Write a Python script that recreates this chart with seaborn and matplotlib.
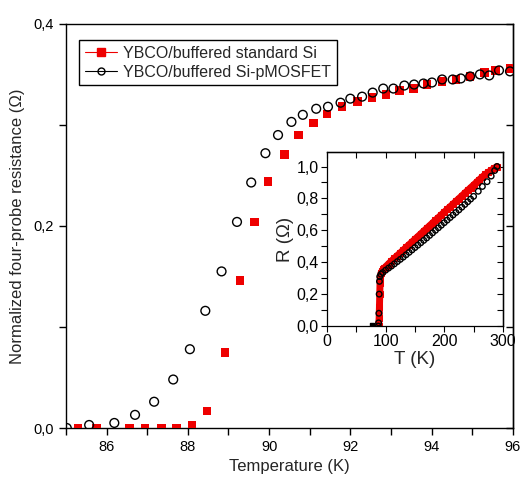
import matplotlib
matplotlib.use('Agg')
import matplotlib.pyplot as plt
import seaborn as sns
from matplotlib.lines import Line2D
from matplotlib.ticker import MultipleLocator, FuncFormatter, NullFormatter

# main panel: normalized resistance near the transition
std_T = [85.30, 85.75, 86.57, 86.94, 87.35, 87.72, 88.10, 88.47, 88.91, 89.28,
         89.64, 89.97, 90.38, 90.72, 91.09, 91.43, 91.80, 92.17, 92.53, 92.88,
         93.21, 93.55, 93.89, 94.26, 94.60, 94.95, 95.30, 95.58, 95.93]
std_R = [0.000, 0.000, 0.000, 0.000, 0.000, 0.000, 0.003, 0.017, 0.075, 0.146,
         0.204, 0.244, 0.271, 0.290, 0.302, 0.311, 0.318, 0.323, 0.327, 0.330,
         0.334, 0.336, 0.340, 0.343, 0.345, 0.348, 0.352, 0.354, 0.356]

mos_T = [85.02, 85.57, 86.19, 86.70, 87.17, 87.64, 88.05, 88.43, 88.83, 89.21,
         89.56, 89.91, 90.22, 90.55, 90.83, 91.16, 91.45, 91.76, 92.00, 92.29,
         92.55, 92.81, 93.06, 93.33, 93.57, 93.80, 94.01, 94.26, 94.52, 94.72,
         94.95, 95.19, 95.42, 95.66, 95.93]
mos_R = [0.000, 0.003, 0.005, 0.013, 0.026, 0.048, 0.078, 0.116, 0.155, 0.204,
         0.243, 0.272, 0.290, 0.303, 0.310, 0.316, 0.318, 0.322, 0.326, 0.328,
         0.332, 0.336, 0.336, 0.339, 0.340, 0.341, 0.342, 0.345, 0.345, 0.346,
         0.348, 0.350, 0.349, 0.354, 0.353]

# inset: full temperature range
in_std_T = [88, 89, 89.5, 90, 90.5, 91, 92, 94, 96, 98, 100, 105, 110, 115, 120,
            125, 130, 135, 140, 145, 150, 155, 160, 165, 170, 175, 180, 185, 190,
            195, 200, 205, 210, 215, 220, 225, 230, 235, 240, 245, 250, 255, 260,
            265, 270, 275, 280, 285, 290]
in_std_R = [0.00, 0.05, 0.12, 0.20, 0.27, 0.31, 0.33, 0.345, 0.355, 0.362, 0.372,
            0.39, 0.408, 0.425, 0.442, 0.459, 0.476, 0.493, 0.51, 0.527, 0.544,
            0.561, 0.578, 0.595, 0.612, 0.629, 0.646, 0.663, 0.68, 0.697, 0.714,
            0.731, 0.748, 0.765, 0.782, 0.799, 0.816, 0.833, 0.85, 0.867, 0.884,
            0.901, 0.918, 0.935, 0.95, 0.963, 0.976, 0.988, 1.00]

in_mos_T = [87.5, 88, 88.5, 89, 89.5, 90, 92, 95, 100, 105, 110, 115, 120, 125,
            130, 135, 140, 145, 150, 155, 160, 165, 170, 175, 180, 185, 190, 195,
            200, 205, 210, 215, 220, 225, 230, 235, 240, 245, 250, 258, 265, 273,
            280, 286, 290]
in_mos_R = [0.00, 0.02, 0.08, 0.20, 0.28, 0.31, 0.325, 0.335, 0.35, 0.363, 0.376,
            0.39, 0.404, 0.418, 0.432, 0.447, 0.462, 0.477, 0.492, 0.507, 0.522,
            0.537, 0.552, 0.568, 0.584, 0.6, 0.616, 0.632, 0.648, 0.664, 0.68,
            0.696, 0.712, 0.728, 0.745, 0.762, 0.779, 0.796, 0.813, 0.845, 0.875,
            0.905, 0.94, 0.975, 1.00]

low_T = [77]
low_R = [0.005]

sns.set_theme(style='ticks')
plt.rcParams['font.family'] = ['Liberation Sans', 'DejaVu Sans']
plt.rcParams['axes.linewidth'] = 1.0

comma = FuncFormatter(lambda v, p: ('%.1f' % v).replace('.', ','))

fig = plt.figure(figsize=(5.22, 4.94), dpi=100)
ax = fig.add_axes([0.1264, 0.1336, 0.856, 0.818])

sns.scatterplot(x=std_T, y=std_R, marker='s', s=38, color='#ee0000',
                edgecolor='none', ax=ax, zorder=3)
ax.scatter(mos_T, mos_R, marker='o', s=40, facecolors='none',
           edgecolors='black', linewidths=1.0, zorder=4)

ax.set_xlim(85, 96)
ax.set_ylim(0, 0.4)
ax.xaxis.set_major_locator(MultipleLocator(2))
ax.xaxis.set_minor_locator(MultipleLocator(1))
ax.yaxis.set_major_locator(MultipleLocator(0.2))
ax.yaxis.set_minor_locator(MultipleLocator(0.1))
ax.yaxis.set_major_formatter(comma)
ax.tick_params(which='both', direction='out', length=5, width=1, labelsize=10.5,
               colors='black')
ax.set_xlabel('Temperature (K)', fontsize=12)
ax.set_ylabel('Normalized four-probe resistance (\u03a9)', fontsize=12, labelpad=6)
for sp in ax.spines.values():
    sp.set_visible(True)
    sp.set_color('black')

# mirrored inward ticks on the right
rax = ax.secondary_yaxis('right')
rax.yaxis.set_major_locator(MultipleLocator(0.1))
rax.yaxis.set_major_formatter(NullFormatter())
rax.tick_params(direction='in', length=5, width=1, colors='black')

handles = [
    Line2D([], [], color='#ee0000', lw=0.8, marker='s', markersize=5.5,
           markerfacecolor='#ee0000', markeredgecolor='#ee0000'),
    Line2D([], [], color='black', lw=0.8, marker='o', markersize=5,
           markerfacecolor='none', markeredgecolor='black'),
]
leg = ax.legend(handles, ['YBCO/buffered standard Si', 'YBCO/buffered Si-pMOSFET'],
                loc='upper left', bbox_to_anchor=(0.012, 0.98), fontsize=11.5,
                frameon=True, fancybox=False, edgecolor='black', framealpha=1,
                handlelength=2.0, handletextpad=0.4, borderpad=0.35,
                labelspacing=0.25)
leg.get_frame().set_linewidth(1.0)

# inset
ins = fig.add_axes([0.6264, 0.340, 0.337, 0.352])
sns.lineplot(x=in_std_T, y=in_std_R, color='#ee0000', lw=5, marker='s',
             markersize=5, markeredgecolor='#ee0000', ax=ins, sort=False)
ins.scatter(in_mos_T, in_mos_R, marker='o', s=16, facecolors='none',
            edgecolors='black', linewidths=1.0, zorder=4)
ins.scatter(low_T, low_R, marker='s', s=10, color='black', zorder=4)
ins.set_xlim(0, 300)
ins.set_ylim(0, 1.09)
ins.xaxis.set_major_locator(MultipleLocator(100))
ins.xaxis.set_minor_locator(MultipleLocator(50))
ins.yaxis.set_major_locator(MultipleLocator(0.2))
ins.yaxis.set_minor_locator(MultipleLocator(0.1))
ins.yaxis.set_major_formatter(comma)
ins.tick_params(which='both', direction='out', length=4, width=0.8,
                labelsize=11.5, colors='black', pad=2)
ins.set_xlabel('T (K)', fontsize=13.5, labelpad=1)
ins.set_ylabel('R (\u03a9)', fontsize=13.5, labelpad=2)
for sp in ins.spines.values():
    sp.set_visible(True)
    sp.set_color('black')
    sp.set_linewidth(0.9)

tax = ins.secondary_xaxis('top')
tax.xaxis.set_major_locator(MultipleLocator(50))
tax.xaxis.set_major_formatter(NullFormatter())
tax.tick_params(direction='in', length=4, width=0.8, colors='black')
irx = ins.secondary_yaxis('right')
irx.yaxis.set_major_locator(MultipleLocator(0.1))
irx.yaxis.set_major_formatter(NullFormatter())
irx.tick_params(direction='in', length=4, width=0.8, colors='black')

fig.savefig('out.png', dpi=100)
